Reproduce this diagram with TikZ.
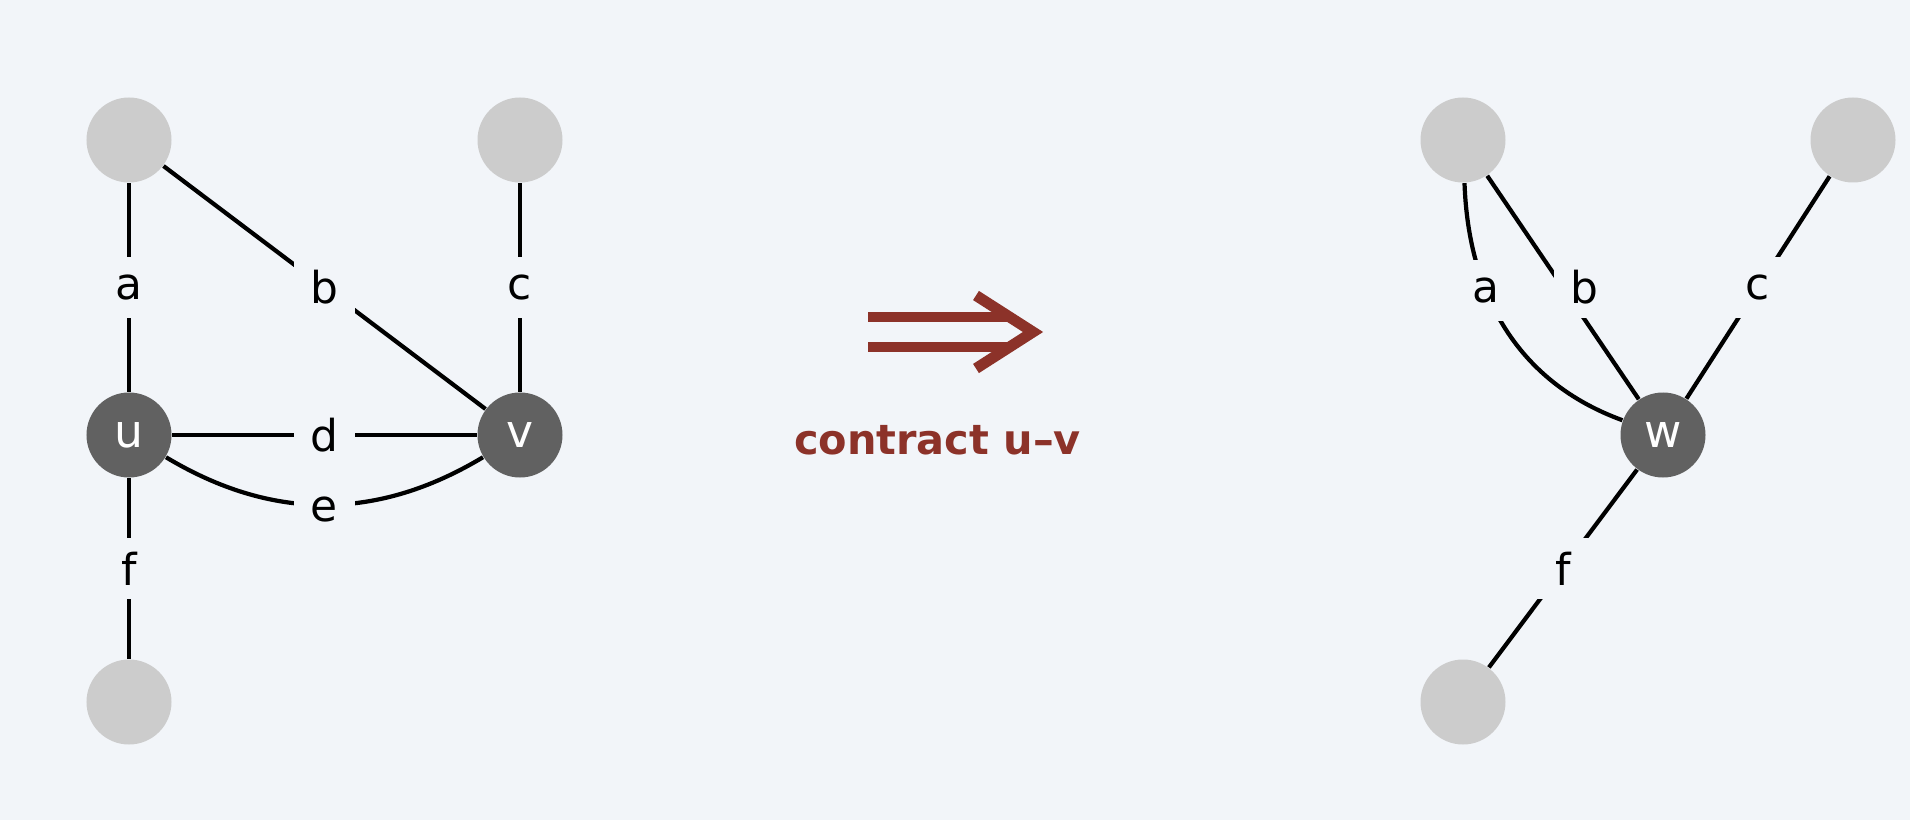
\documentclass[tikz,border=0pt]{standalone}
\usepackage{fontspec}
\setmainfont{DejaVu Sans}
\definecolor{bgcol}{HTML}{F2F5F9}
\definecolor{lightnode}{HTML}{CCCCCC}
\definecolor{darknode}{HTML}{616161}
\definecolor{brick}{HTML}{8C3229}
\tikzstyle{leaf}=[circle,fill=lightnode,minimum size=0.85cm,inner sep=0pt]
\tikzstyle{hub}=[circle,fill=darknode,minimum size=0.85cm,inner sep=0pt,
                 text=white,font=\fontsize{13}{13}\selectfont]
\tikzstyle{elabel}=[fill=bgcol,minimum size=0.61cm,inner sep=0pt,
                    font=\fontsize{12.5}{12.5}\selectfont]
\tikzstyle{gedge}=[line width=1.2pt]
\tikzstyle{contract}=[line width=3.1pt,color=brick]

\begin{document}
\begin{tikzpicture}
  \fill[bgcol] (0,0) rectangle (19.1,-8.2);

  % Graph before contraction
  \node[leaf] (lt) at (1.29,-1.40) {};
  \node[leaf] (rt) at (5.20,-1.40) {};
  \node[hub] (u) at (1.29,-4.35) {u};
  \node[hub] (v) at (5.20,-4.35) {v};
  \node[leaf] (lb) at (1.29,-7.02) {};

  \path[gedge] (lt) edge node[elabel] (ea) {a} (u);
  \path[gedge] (lt) edge node[elabel] (eb) {b} (v);
  \path[gedge] (rt) edge node[elabel] (ec) {c} (v);
  \path[gedge] (u) edge node[elabel] (ed) {d} (v);
  \path[gedge] (u) edge[bend right=31] node[elabel,yshift=-0.5mm] (ee) {e} (v);
  \path[gedge] (u) edge node[elabel] (ef) {f} (lb);

  % Arrow
  \draw[contract] (8.68,-3.17) -- (10.10,-3.17);
  \draw[contract] (8.68,-3.47) -- (10.10,-3.47);
  \draw[contract] (9.76,-2.955) -- (10.33,-3.32) -- (9.76,-3.685);
  \node[text=brick,font=\fontsize{11.8}{11.8}\selectfont\bfseries,anchor=base]
    (caption) at (9.375,-4.55) {contract u--v};

  % Graph after contraction
  \node[leaf] (lt2) at (14.63,-1.40) {};
  \node[leaf] (rt2) at (18.53,-1.40) {};
  \node[hub] (w) at (16.63,-4.35) {w};
  \node[leaf] (lb2) at (14.63,-7.02) {};

  \path[gedge] (lt2) edge[out=-88,in=160] node[elabel,pos=0.35] (ea2) {a} (w);
  \path[gedge] (lt2) edge node[elabel,xshift=2.1mm] (eb2) {b} (w);
  \path[gedge] (rt2) edge node[elabel] (ec2) {c} (w);
  \path[gedge] (w) edge node[elabel] (ef2) {f} (lb2);

\end{tikzpicture}
\end{document}
